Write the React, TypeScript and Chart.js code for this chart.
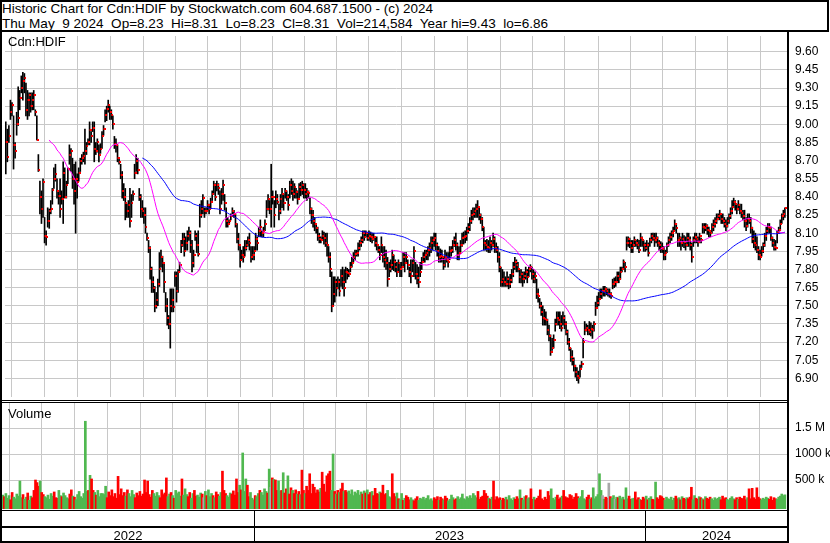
import React, { useEffect, useLayoutEffect, useRef } from "react";
import { Chart, registerables } from "chart.js";

Chart.register(...registerables);

// ---------------- data (one entry per trading day, May 2022 -> May 9 2024) ----------------
const high = [
  9.02, 8.96, 8.99, 9.20, 9.18, 9.07, 8.85, 9.10, 9.31, 9.28,
  9.40, 9.43, 9.42, 9.34, 9.28, 9.26, 9.26, 9.26, 9.28, 9.12,
  9.07, 8.75, 8.53, 8.45, 8.55, 8.23, 8.12, 8.31, 8.30, 8.37,
  8.47, 8.64, 8.67, 8.55, 8.45, 8.55, 8.45, 8.69, 8.64, 8.53,
  8.64, 8.83, 8.80, 8.72, 8.67, 8.69, 8.59, 8.64, 8.72, 8.75,
  8.77, 8.96, 8.85, 8.88, 9.02, 8.94, 9.02, 9.02, 8.85, 8.88,
  8.83, 8.84, 8.94, 8.99, 9.12, 9.15, 9.20, 9.15, 9.12, 9.07,
  8.90, 8.88, 8.83, 8.72, 8.67, 8.61, 8.51, 8.47, 8.34, 8.37,
  8.47, 8.42, 8.45, 8.67, 8.75, 8.72, 8.47, 8.42, 8.37, 8.31,
  8.31, 8.10, 8.04, 7.99, 7.82, 7.74, 7.66, 7.61, 7.72, 7.94,
  7.96, 7.91, 7.86, 7.61, 7.56, 7.42, 7.64, 7.64, 7.64, 7.78,
  7.78, 7.80, 7.86, 8.04, 8.10, 8.10, 8.07, 8.12, 8.15, 8.12,
  8.04, 7.96, 8.12, 8.10, 8.12, 8.34, 8.37, 8.42, 8.31, 8.31,
  8.37, 8.34, 8.39, 8.45, 8.53, 8.51, 8.53, 8.51, 8.45, 8.47,
  8.54, 8.42, 8.31, 8.23, 8.21, 8.26, 8.31, 8.29, 8.26, 8.18,
  8.10, 7.99, 7.96, 7.99, 8.04, 8.04, 8.07, 8.10, 7.99, 7.99,
  7.99, 8.10, 8.07, 8.15, 8.21, 8.12, 8.15, 8.21, 8.37, 8.42,
  8.37, 8.67, 8.45, 8.37, 8.45, 8.42, 8.34, 8.42, 8.47, 8.42,
  8.47, 8.45, 8.42, 8.53, 8.55, 8.53, 8.51, 8.47, 8.45, 8.51,
  8.52, 8.53, 8.51, 8.51, 8.47, 8.45, 8.39, 8.31, 8.29, 8.23,
  8.18, 8.15, 8.10, 8.07, 8.12, 8.11, 8.10, 8.10, 7.99, 7.94,
  7.78, 7.74, 7.74, 7.72, 7.74, 7.72, 7.80, 7.82, 7.80, 7.82,
  7.81, 7.80, 7.86, 7.90, 7.94, 7.96, 7.96, 8.02, 8.04, 8.07,
  8.12, 8.12, 8.12, 8.10, 8.12, 8.11, 8.10, 8.10, 8.07, 8.07,
  7.99, 7.99, 8.07, 7.99, 7.99, 7.96, 7.90, 7.86, 7.88, 7.96,
  7.92, 7.88, 7.86, 7.88, 7.86, 7.86, 7.94, 7.94, 7.94, 7.88,
  7.82, 7.88, 7.88, 7.99, 7.86, 7.84, 7.82, 7.86, 7.90, 7.94,
  7.96, 7.96, 7.99, 8.02, 8.07, 8.07, 8.10, 8.10, 8.02, 7.99,
  7.97, 7.96, 7.90, 7.96, 7.94, 7.94, 7.99, 7.99, 8.04, 8.07,
  8.10, 8.02, 7.99, 8.04, 8.10, 8.11, 8.12, 8.15, 8.18, 8.23,
  8.29, 8.31, 8.31, 8.34, 8.37, 8.31, 8.26, 8.23, 8.15, 8.04,
  8.05, 8.04, 8.07, 8.04, 8.10, 8.07, 8.02, 7.99, 7.94, 7.82,
  7.80, 7.78, 7.74, 7.78, 7.74, 7.76, 7.80, 7.86, 7.90, 7.88,
  7.86, 7.80, 7.80, 7.78, 7.78, 7.82, 7.80, 7.82, 7.84, 7.82,
  7.80, 7.78, 7.72, 7.64, 7.56, 7.53, 7.50, 7.47, 7.45, 7.39,
  7.34, 7.26, 7.23, 7.26, 7.39, 7.45, 7.45, 7.45, 7.42, 7.45,
  7.42, 7.37, 7.30, 7.23, 7.15, 7.13, 7.07, 7.01, 6.99, 6.96,
  7.01, 7.04, 7.23, 7.37, 7.35, 7.34, 7.37, 7.36, 7.34, 7.37,
  7.53, 7.58, 7.61, 7.64, 7.64, 7.66, 7.66, 7.65, 7.64, 7.64,
  7.61, 7.72, 7.73, 7.74, 7.78, 7.78, 7.82, 7.82, 7.88, 7.86,
  8.07, 8.07, 8.06, 8.04, 8.04, 8.07, 8.04, 8.05, 8.04, 8.10,
  8.07, 8.04, 8.02, 8.04, 8.02, 8.06, 8.10, 8.10, 8.10, 8.10,
  8.07, 8.04, 8.03, 8.02, 7.99, 7.96, 8.02, 8.07, 8.10, 8.12,
  8.15, 8.21, 8.18, 8.10, 8.10, 8.07, 8.10, 8.08, 8.07, 8.10,
  8.10, 8.07, 8.02, 8.07, 8.10, 8.10, 8.07, 8.10, 8.06, 8.18,
  8.18, 8.18, 8.17, 8.15, 8.12, 8.18, 8.21, 8.23, 8.26, 8.26,
  8.29, 8.26, 8.26, 8.23, 8.21, 8.23, 8.26, 8.31, 8.37, 8.39,
  8.37, 8.34, 8.37, 8.34, 8.34, 8.29, 8.29, 8.23, 8.26, 8.26,
  8.23, 8.15, 8.12, 8.10, 8.07, 7.99, 7.96, 7.99, 8.02, 8.10,
  8.15, 8.18, 8.18, 8.15, 8.07, 8.05, 8.04, 8.12, 8.15, 8.21,
  8.26, 8.29, 8.31,
];

const low = [
  8.59, 8.69, 8.85, 9.04, 9.07, 8.63, 8.72, 8.91, 8.99, 9.12,
  9.26, 9.20, 9.26, 9.07, 9.04, 9.07, 9.10, 9.12, 9.12, 9.07,
  8.87, 8.61, 8.26, 8.18, 8.23, 8.02, 8.00, 8.15, 8.14, 8.26,
  8.34, 8.47, 8.53, 8.39, 8.34, 8.23, 8.34, 8.18, 8.39, 8.39,
  8.51, 8.67, 8.61, 8.47, 8.34, 8.10, 8.39, 8.53, 8.61, 8.67,
  8.69, 8.67, 8.75, 8.83, 8.83, 8.85, 8.94, 8.69, 8.75, 8.77,
  8.69, 8.76, 8.80, 8.91, 9.02, 9.03, 9.10, 9.04, 9.04, 8.96,
  8.80, 8.77, 8.69, 8.67, 8.55, 8.39, 8.37, 8.21, 8.23, 8.23,
  8.15, 8.23, 8.37, 8.55, 8.61, 8.59, 8.37, 8.23, 8.23, 8.18,
  8.10, 8.04, 7.94, 7.72, 7.61, 7.61, 7.45, 7.48, 7.50, 7.66,
  7.82, 7.78, 7.61, 7.45, 7.34, 7.31, 7.15, 7.45, 7.45, 7.66,
  7.53, 7.61, 7.78, 7.94, 7.99, 7.91, 7.96, 7.96, 8.04, 7.94,
  7.78, 7.82, 8.04, 7.94, 7.91, 8.15, 8.23, 8.26, 8.23, 8.26,
  8.29, 8.26, 8.31, 8.37, 8.42, 8.37, 8.45, 8.42, 8.26, 8.34,
  8.37, 8.29, 8.15, 8.15, 8.18, 8.21, 8.26, 8.23, 8.15, 8.02,
  7.96, 7.82, 7.88, 7.86, 7.91, 7.96, 7.99, 7.96, 7.86, 7.88,
  7.88, 7.96, 7.96, 8.07, 8.07, 8.07, 8.07, 8.12, 8.23, 8.29,
  8.26, 8.15, 8.34, 8.15, 8.31, 8.34, 8.21, 8.26, 8.31, 8.29,
  8.39, 8.37, 8.29, 8.39, 8.42, 8.37, 8.39, 8.39, 8.34, 8.39,
  8.41, 8.42, 8.39, 8.39, 8.37, 8.39, 8.26, 8.18, 8.15, 8.12,
  8.10, 8.04, 8.02, 8.02, 8.04, 8.01, 7.99, 7.91, 7.86, 7.74,
  7.45, 7.50, 7.53, 7.58, 7.64, 7.58, 7.66, 7.64, 7.58, 7.69,
  7.72, 7.74, 7.78, 7.82, 7.86, 7.88, 7.91, 7.91, 7.96, 7.99,
  8.02, 8.04, 8.07, 8.04, 8.04, 8.03, 8.02, 8.04, 7.99, 7.96,
  7.94, 7.88, 7.94, 7.86, 7.82, 7.80, 7.66, 7.74, 7.78, 7.80,
  7.79, 7.78, 7.74, 7.78, 7.74, 7.74, 7.82, 7.78, 7.86, 7.80,
  7.74, 7.69, 7.78, 7.74, 7.72, 7.68, 7.65, 7.74, 7.80, 7.86,
  7.86, 7.88, 7.88, 7.91, 7.94, 7.96, 7.99, 7.96, 7.91, 7.86,
  7.86, 7.86, 7.80, 7.82, 7.86, 7.82, 7.88, 7.91, 7.94, 7.99,
  7.96, 7.88, 7.88, 7.94, 7.99, 8.01, 8.02, 8.04, 8.10, 8.12,
  8.18, 8.21, 8.23, 8.23, 8.23, 8.21, 8.18, 8.12, 7.96, 7.96,
  7.95, 7.94, 7.94, 7.96, 7.99, 7.94, 7.94, 7.86, 7.78, 7.66,
  7.66, 7.66, 7.66, 7.66, 7.64, 7.65, 7.69, 7.74, 7.80, 7.78,
  7.78, 7.69, 7.69, 7.66, 7.69, 7.72, 7.69, 7.74, 7.78, 7.72,
  7.69, 7.69, 7.56, 7.53, 7.48, 7.42, 7.34, 7.34, 7.34, 7.26,
  7.21, 7.09, 7.13, 7.15, 7.29, 7.34, 7.34, 7.31, 7.29, 7.34,
  7.31, 7.26, 7.18, 7.13, 7.04, 7.01, 6.96, 6.91, 6.88, 6.86,
  6.91, 6.99, 7.07, 7.26, 7.29, 7.26, 7.26, 7.25, 7.23, 7.29,
  7.42, 7.48, 7.50, 7.56, 7.56, 7.58, 7.58, 7.59, 7.58, 7.57,
  7.56, 7.64, 7.65, 7.66, 7.69, 7.69, 7.72, 7.78, 7.80, 7.78,
  7.96, 7.99, 7.98, 7.94, 7.94, 7.99, 7.99, 7.97, 7.94, 7.99,
  7.99, 7.95, 7.95, 7.96, 7.91, 7.99, 8.02, 8.04, 7.99, 8.02,
  7.99, 7.96, 7.94, 7.94, 7.88, 7.88, 7.94, 7.99, 8.02, 8.04,
  8.07, 8.12, 8.10, 7.99, 7.99, 7.96, 7.99, 7.98, 7.96, 7.99,
  7.99, 7.96, 7.86, 7.99, 8.02, 8.02, 7.99, 8.02, 8.02, 8.10,
  8.10, 8.12, 8.09, 8.07, 8.07, 8.10, 8.12, 8.15, 8.18, 8.21,
  8.21, 8.18, 8.18, 8.15, 8.12, 8.15, 8.18, 8.22, 8.26, 8.31,
  8.29, 8.26, 8.29, 8.26, 8.23, 8.21, 8.15, 8.12, 8.15, 8.18,
  8.10, 8.02, 7.98, 7.96, 7.94, 7.88, 7.88, 7.91, 7.94, 7.99,
  8.04, 8.10, 8.10, 8.04, 7.99, 7.96, 7.96, 8.02, 8.10, 8.12,
  8.18, 8.21, 8.23,
];

const close = [
  8.85, 8.73, 8.90, 9.10, 9.16, 8.83, 8.78, 9.00, 9.05, 9.22,
  9.30, 9.36, 9.38, 9.12, 9.20, 9.24, 9.15, 9.20, 9.24, 9.10,
  8.87, 8.62, 8.40, 8.30, 8.52, 8.08, 8.07, 8.20, 8.28, 8.30,
  8.46, 8.55, 8.59, 8.45, 8.41, 8.30, 8.38, 8.60, 8.40, 8.50,
  8.63, 8.75, 8.78, 8.55, 8.45, 8.55, 8.52, 8.60, 8.70, 8.72,
  8.74, 8.78, 8.82, 8.85, 8.95, 8.90, 8.97, 8.80, 8.78, 8.85,
  8.75, 8.80, 8.90, 8.96, 9.08, 9.13, 9.16, 9.10, 9.08, 9.00,
  8.84, 8.83, 8.72, 8.69, 8.58, 8.45, 8.40, 8.35, 8.28, 8.33,
  8.20, 8.35, 8.42, 8.60, 8.70, 8.62, 8.40, 8.30, 8.28, 8.25,
  8.15, 8.06, 7.98, 7.80, 7.70, 7.65, 7.50, 7.55, 7.68, 7.80,
  7.90, 7.85, 7.70, 7.50, 7.40, 7.35, 7.50, 7.55, 7.49, 7.75,
  7.62, 7.78, 7.84, 8.00, 8.05, 7.95, 8.02, 8.08, 8.10, 8.00,
  7.85, 7.92, 8.08, 8.00, 7.93, 8.25, 8.30, 8.39, 8.28, 8.28,
  8.33, 8.30, 8.36, 8.42, 8.50, 8.40, 8.50, 8.47, 8.30, 8.42,
  8.50, 8.35, 8.20, 8.18, 8.20, 8.24, 8.28, 8.26, 8.18, 8.05,
  8.00, 7.88, 7.92, 7.90, 7.98, 8.00, 8.04, 8.02, 7.90, 7.92,
  7.95, 8.05, 8.02, 8.12, 8.15, 8.10, 8.12, 8.18, 8.30, 8.38,
  8.30, 8.40, 8.40, 8.25, 8.38, 8.36, 8.28, 8.38, 8.42, 8.35,
  8.45, 8.40, 8.33, 8.50, 8.45, 8.42, 8.48, 8.44, 8.38, 8.48,
  8.46, 8.50, 8.46, 8.42, 8.44, 8.43, 8.30, 8.25, 8.20, 8.18,
  8.14, 8.08, 8.05, 8.04, 8.08, 8.06, 8.02, 8.00, 7.90, 7.80,
  7.50, 7.60, 7.70, 7.65, 7.70, 7.62, 7.75, 7.70, 7.65, 7.78,
  7.77, 7.76, 7.82, 7.85, 7.90, 7.93, 7.94, 7.98, 8.02, 8.04,
  8.10, 8.07, 8.10, 8.06, 8.08, 8.07, 8.05, 8.07, 8.02, 8.00,
  7.96, 7.92, 8.00, 7.90, 7.88, 7.85, 7.72, 7.80, 7.84, 7.92,
  7.86, 7.82, 7.78, 7.85, 7.80, 7.82, 7.90, 7.85, 7.90, 7.84,
  7.78, 7.75, 7.85, 7.95, 7.76, 7.73, 7.70, 7.78, 7.86, 7.90,
  7.92, 7.94, 7.96, 7.98, 8.02, 8.04, 8.06, 8.00, 7.95, 7.90,
  7.91, 7.90, 7.84, 7.90, 7.88, 7.86, 7.95, 7.96, 8.00, 8.04,
  8.00, 7.92, 7.94, 8.00, 8.06, 8.07, 8.08, 8.12, 8.15, 8.20,
  8.25, 8.26, 8.28, 8.30, 8.32, 8.25, 8.22, 8.15, 8.02, 8.00,
  7.99, 7.98, 8.02, 8.00, 8.05, 7.98, 7.96, 7.90, 7.82, 7.70,
  7.72, 7.70, 7.68, 7.72, 7.68, 7.71, 7.76, 7.82, 7.86, 7.84,
  7.80, 7.74, 7.76, 7.72, 7.75, 7.78, 7.74, 7.80, 7.82, 7.76,
  7.72, 7.75, 7.60, 7.58, 7.50, 7.45, 7.40, 7.39, 7.38, 7.30,
  7.25, 7.12, 7.15, 7.22, 7.35, 7.40, 7.38, 7.35, 7.32, 7.40,
  7.35, 7.28, 7.20, 7.15, 7.08, 7.05, 7.00, 6.95, 6.92, 6.90,
  6.98, 7.02, 7.20, 7.30, 7.32, 7.30, 7.28, 7.31, 7.30, 7.35,
  7.48, 7.52, 7.56, 7.60, 7.62, 7.62, 7.64, 7.62, 7.60, 7.60,
  7.58, 7.68, 7.70, 7.70, 7.75, 7.72, 7.78, 7.80, 7.86, 7.82,
  8.02, 8.05, 8.02, 7.98, 8.00, 8.04, 8.02, 8.00, 7.96, 8.06,
  8.04, 8.00, 7.98, 8.00, 7.94, 8.04, 8.08, 8.06, 8.04, 8.06,
  8.02, 8.00, 7.98, 7.97, 7.92, 7.94, 8.00, 8.04, 8.07, 8.10,
  8.12, 8.18, 8.14, 8.04, 8.06, 8.02, 8.05, 8.03, 8.00, 8.06,
  8.04, 8.00, 7.90, 8.04, 8.07, 8.05, 8.03, 8.08, 8.04, 8.15,
  8.14, 8.16, 8.13, 8.12, 8.10, 8.15, 8.18, 8.20, 8.22, 8.24,
  8.26, 8.22, 8.20, 8.18, 8.16, 8.20, 8.24, 8.28, 8.32, 8.36,
  8.34, 8.30, 8.33, 8.28, 8.27, 8.24, 8.20, 8.16, 8.22, 8.20,
  8.14, 8.05, 8.02, 8.00, 7.96, 7.92, 7.90, 7.95, 8.00, 8.08,
  8.12, 8.15, 8.14, 8.06, 8.02, 7.99, 7.98, 8.10, 8.13, 8.18,
  8.24, 8.26, 8.31,
];

// daily volume, thousands of shares
const volumeK = [
  210, 180, 240, 150, 200, 120, 260, 170, 140, 230,
  190, 480, 160, 220, 130, 170, 250, 110, 190, 160,
  300, 500, 450, 380, 480, 260, 220, 180, 160, 210,
  130, 240, 190, 270, 160, 150, 300, 200, 180, 250,
  200, 160, 140, 230, 310, 190, 170, 120, 220, 280,
  180, 150, 240, 1630, 280, 300, 590, 520, 300, 260,
  210, 300, 180, 240, 240, 220, 380, 160, 270, 200,
  310, 180, 240, 150, 570, 220, 330, 200, 260, 190,
  310, 240, 180, 300, 220, 160, 250, 200, 280, 190,
  230, 500, 260, 480, 220, 170, 300, 240, 190, 260,
  200, 160, 310, 220, 250, 540, 180, 230, 260, 200,
  150, 300, 240, 270, 190, 520, 210, 330, 220, 180,
  260, 150, 240, 300, 190, 210, 170, 250, 230, 160,
  280, 200, 310, 180, 240, 200, 160, 270, 220, 190,
  260, 670, 300, 240, 200, 170, 250, 230, 290, 210,
  520, 260, 400, 310, 1020, 280, 520, 400, 180, 260,
  150, 120, 200, 180, 240, 300, 260, 210, 330, 280,
  250, 710, 360, 540, 510, 500, 300, 480, 290, 300,
  640, 250, 330, 580, 230, 350, 300, 240, 310, 230,
  280, 220, 690, 300, 240, 380, 300, 620, 240, 420,
  360, 250, 310, 270, 340, 650, 420, 270, 580, 620,
  670, 300, 1000, 280, 230, 300, 260, 330, 440, 280,
  300, 260, 290, 230, 310, 200, 270, 240, 300, 210,
  270, 230, 290, 250, 310, 220, 260, 280, 200, 340,
  240, 230, 270, 250, 400, 220, 240, 300, 180, 160,
  620, 240, 180, 250, 140, 120, 240, 110, 150, 200,
  170, 120, 160, 120, 100, 140, 180, 110, 150, 130,
  170, 120, 150, 200, 120, 140, 100, 160, 130, 180,
  110, 170, 140, 120, 190, 150, 100, 130, 210, 160,
  120, 140, 180, 130, 160, 230, 140, 120, 180, 150,
  200, 150, 240, 200, 160, 280, 130, 170, 190, 300,
  240, 190, 150, 130, 170, 480, 120, 180, 140, 160,
  110, 150, 130, 170, 120, 200, 140, 110, 160, 130,
  180, 140, 310, 150, 120, 180, 200, 140, 160, 330,
  130, 170, 120, 150, 190, 310, 140, 110, 170, 130,
  280, 200, 330, 150, 120, 170, 210, 130, 160, 190,
  300, 180, 160, 150, 220, 200, 130, 170, 240, 180,
  150, 180, 300, 140, 120, 170, 210, 130, 160, 350,
  140, 180, 220, 620, 300, 200, 130, 170, 150, 440,
  180, 150, 200, 130, 170, 160, 190, 140, 170, 120,
  350, 140, 190, 130, 140, 150, 270, 120, 160, 130,
  110, 170, 140, 190, 120, 150, 180, 130, 120, 460,
  160, 130, 200, 180, 150, 110, 170, 140, 130, 170,
  110, 150, 190, 140, 160, 120, 180, 150, 130, 160,
  140, 170, 360, 120, 200, 150, 130, 180, 160, 140,
  120, 180, 150, 130, 170, 140, 110, 160, 130, 150,
  170, 120, 190, 140, 160, 130, 110, 150, 180, 140,
  120, 160, 130, 170, 150, 140, 190, 120, 160, 330,
  140, 340, 160, 130, 350, 170, 140, 120, 150, 130,
  170, 150, 130, 180, 110, 160, 140, 130, 170, 190,
  230, 200, 215,
];

const priceTicks = [6.9, 7.05, 7.2, 7.35, 7.5, 7.65, 7.8, 7.95, 8.1, 8.25, 8.4, 8.55, 8.7, 8.85, 9.0, 9.15, 9.3, 9.45, 9.6];
const volumeTicks = [500, 1000, 1500];
const volumeTickLabels = ["500 k", "1000 k", "1.5 M"];
// first trading day of each month (bar index, half-way between bars)
const monthTicks = [14.5, 35.5, 56.5, 78, 99, 119.5, 141, 161, 183, 202.5, 224, 243.5, 266.5, 286.5, 308, 330, 349, 371.5, 392.5, 412.5, 434, 455, 475.5, 496.5];
const yearBreaks = [161, 412.5];
const yearLabels = ["2022", "2023", "2024"];
const MA_SHORT = 29;
const MA_LONG = 89;

const headerLine1 = "Historic Chart for Cdn:HDIF by Stockwatch.com 604.687.1500 - (c) 2024";
const headerLine2 = "Thu May  9 2024  Op=8.23  Hi=8.31  Lo=8.23  Cl=8.31  Vol=214,584  Year hi=9.43  lo=6.86";
const symbolLabel = "Cdn:HDIF";
const volumeLabel = "Volume";

// ---------------- style / layout constants ----------------
const FONT = "'Liberation Sans', Arial, Helvetica, sans-serif";
const GRID = "#c8c8c8";
const X_MIN = -0.5;
const X_MAX = 504;
const P_MIN = 6.746;
const P_MAX = 9.73;
const V_MIN = -57.7;
const V_MAX = 1980.8;
const AXIS_W = 42;
const HEADER1_W = 431;
const HEADER2_W = 546;

function sma(len: number) {
  const out: { x: number; y: number }[] = [];
  let sum = 0;
  for (let i = 0; i < close.length; i++) {
    sum += close[i];
    if (i >= len) sum -= close[i - len];
    if (i >= len - 1) out.push({ x: i, y: sum / len });
  }
  return out;
}

function xAxis(): any {
  return {
    type: "linear",
    min: X_MIN,
    max: X_MAX,
    offset: false,
    position: "bottom",
    grid: { color: GRID, lineWidth: 1, drawTicks: false },
    border: { display: false },
    ticks: { display: false },
    afterBuildTicks: (s: any) => {
      s.ticks = monthTicks.map((v) => ({ value: v }));
    },
    afterFit: (s: any) => {
      s.height = 0;
      s.paddingLeft = 0;
      s.paddingRight = 0;
    },
  };
}

// small marker: red square sitting on the right-hand side of the bar
function makeCloseMarker() {
  const c = document.createElement("canvas");
  c.width = 4;
  c.height = 2;
  const g = c.getContext("2d") as CanvasRenderingContext2D;
  g.fillStyle = "#ff0000";
  g.fillRect(2, 0, 2, 2);
  return c;
}

const dateStrip = {
  id: "dateStrip",
  afterDraw(chart: any) {
    const { ctx, chartArea } = chart;
    const xs = chart.scales.x;
    const right = chartArea.right;
    ctx.save();
    ctx.fillStyle = "#000";
    ctx.fillRect(0, 109, right, 1);
    ctx.fillRect(0, 125, right, 2);
    ctx.fillRect(0, 140, right, 2);
    const bounds = [chartArea.left, ...yearBreaks.map((b) => Math.round(xs.getPixelForValue(b))), right];
    for (let i = 1; i < bounds.length - 1; i++) {
      ctx.fillRect(bounds[i], 109, 1, 32);
    }
    ctx.font = `13px ${FONT}`;
    ctx.textAlign = "center";
    ctx.textBaseline = "alphabetic";
    for (let i = 0; i < yearLabels.length; i++) {
      ctx.fillText(yearLabels[i], (bounds[i] + bounds[i + 1]) / 2, 139);
    }
    ctx.restore();
  },
};

export default function App() {
  const priceRef = useRef<HTMLCanvasElement>(null);
  const volRef = useRef<HTMLCanvasElement>(null);
  const h1Ref = useRef<HTMLDivElement>(null);
  const h2Ref = useRef<HTMLDivElement>(null);

  useLayoutEffect(() => {
    const fit = (el: HTMLDivElement | null, target: number) => {
      if (!el) return;
      el.style.transform = "none";
      const w = el.getBoundingClientRect().width;
      if (w > 0) el.style.transform = `scaleX(${target / w})`;
    };
    fit(h1Ref.current, HEADER1_W);
    fit(h2Ref.current, HEADER2_W);
  }, []);

  useEffect(() => {
    const idx = close.map((_, i) => i);
    const marker = makeCloseMarker();

    const priceChart = new Chart(priceRef.current as HTMLCanvasElement, {
      type: "bar",
      data: {
        datasets: [
          {
            type: "line",
            label: "MA short",
            data: sma(MA_SHORT),
            borderColor: "#ff00ff",
            borderWidth: 1,
            pointRadius: 0,
            order: 1,
          } as any,
          {
            type: "line",
            label: "MA long",
            data: sma(MA_LONG),
            borderColor: "#0000ff",
            borderWidth: 1,
            pointRadius: 0,
            order: 2,
          } as any,
          {
            type: "line",
            label: "Close",
            data: idx.map((i) => ({ x: i, y: close[i] })),
            showLine: false,
            pointStyle: marker,
            pointRadius: 2,
            backgroundColor: "#ff0000",
            borderColor: "#ff0000",
            order: 3,
          } as any,
          {
            type: "bar",
            label: "Range",
            data: idx.map((i) => ({ x: i, y: [low[i], high[i]] })),
            backgroundColor: "#000",
            borderWidth: 0,
            barThickness: 1,
            order: 4,
          } as any,
        ],
      },
      options: {
        responsive: false,
        maintainAspectRatio: false,
        animation: false,
        devicePixelRatio: 1,
        events: [],
        layout: { padding: { left: 2, top: 1, right: 0, bottom: 2 } },
        plugins: { legend: { display: false }, tooltip: { enabled: false } },
        scales: {
          x: xAxis(),
          y: {
            type: "linear",
            position: "right",
            min: P_MIN,
            max: P_MAX,
            grid: { color: GRID, lineWidth: 1, drawTicks: false },
            border: { display: false },
            ticks: {
              color: "#000",
              font: { family: FONT, size: 12 },
              padding: 7,
              autoSkip: false,
              callback: (v: any) => Number(v).toFixed(2),
            },
            afterBuildTicks: (s: any) => {
              s.ticks = priceTicks.map((v) => ({ value: v }));
            },
            afterFit: (s: any) => {
              s.width = AXIS_W;
              s.paddingTop = 0;
              s.paddingBottom = 0;
            },
          },
        },
      } as any,
    });

    const volColors = close.map((c, i) => {
      if (i === 0) return "#50b850";
      if (c > close[i - 1]) return "#50b850";
      if (c < close[i - 1]) return "#ff0000";
      return "#a8a8a8";
    });

    const volChart = new Chart(volRef.current as HTMLCanvasElement, {
      type: "bar",
      data: {
        datasets: [
          {
            type: "bar",
            label: "Volume",
            data: idx.map((i) => ({ x: i, y: volumeK[i] })),
            backgroundColor: volColors,
            borderWidth: 0,
            barThickness: 2,
            base: V_MIN,
          } as any,
        ],
      },
      options: {
        responsive: false,
        maintainAspectRatio: false,
        animation: false,
        devicePixelRatio: 1,
        events: [],
        layout: { padding: { left: 2, top: 2, right: 0, bottom: 34 } },
        plugins: { legend: { display: false }, tooltip: { enabled: false } },
        scales: {
          x: xAxis(),
          y: {
            type: "linear",
            position: "right",
            min: V_MIN,
            max: V_MAX,
            grid: { color: GRID, lineWidth: 1, drawTicks: false },
            border: { display: false },
            ticks: {
              color: "#000",
              font: { family: FONT, size: 12 },
              padding: 7,
              autoSkip: false,
              callback: (v: any) => {
                const k = volumeTicks.indexOf(Number(v));
                return k >= 0 ? volumeTickLabels[k] : "";
              },
            },
            afterBuildTicks: (s: any) => {
              s.ticks = volumeTicks.map((v) => ({ value: v }));
            },
            afterFit: (s: any) => {
              s.width = AXIS_W;
              s.paddingTop = 0;
              s.paddingBottom = 0;
            },
          },
        },
      } as any,
      plugins: [dateStrip],
    });

    return () => {
      priceChart.destroy();
      volChart.destroy();
    };
  }, []);

  const textBase: React.CSSProperties = {
    position: "absolute",
    fontFamily: FONT,
    color: "#000",
    whiteSpace: "pre",
    lineHeight: "15px",
    margin: 0,
    transformOrigin: "0 0",
  };
  const line = (l: number, t: number, w: number, h: number): React.CSSProperties => ({
    position: "absolute",
    left: l,
    top: t,
    width: w,
    height: h,
    background: "#000",
  });

  return (
    <div
      style={{
        position: "fixed",
        left: 0,
        top: 0,
        width: 830,
        height: 543,
        background: "#fff",
        overflow: "hidden",
      }}
    >
      <canvas
        ref={priceRef}
        width={830}
        height={371}
        style={{ position: "absolute", left: 0, top: 31, width: 830, height: 371, display: "block" }}
      />
      <canvas
        ref={volRef}
        width={830}
        height={142}
        style={{ position: "absolute", left: 0, top: 401, width: 830, height: 142, display: "block" }}
      />
      {/* header box */}
      <div
        style={{
          position: "absolute",
          left: 0,
          top: 0,
          width: 829,
          height: 32,
          border: "2px solid #000",
          boxSizing: "border-box",
          background: "#fff",
        }}
      />
      <div ref={h1Ref} style={{ ...textBase, left: 2, top: 1, fontSize: 13.4 }}>{headerLine1}</div>
      <div ref={h2Ref} style={{ ...textBase, left: 2, top: 16, fontSize: 13.4 }}>{headerLine2}</div>
      {/* frame lines */}
      <div style={line(0, 30, 2, 513)} />
      <div style={line(787, 30, 2, 513)} />
      <div style={line(0, 400, 788, 1)} />
      <div style={line(0, 402, 788, 1)} />
      {/* panel labels */}
      <div style={{ ...textBase, left: 8, top: 34, fontSize: 13 }}>{symbolLabel}</div>
      <div style={{ ...textBase, left: 8, top: 406, fontSize: 13 }}>{volumeLabel}</div>
    </div>
  );
}
